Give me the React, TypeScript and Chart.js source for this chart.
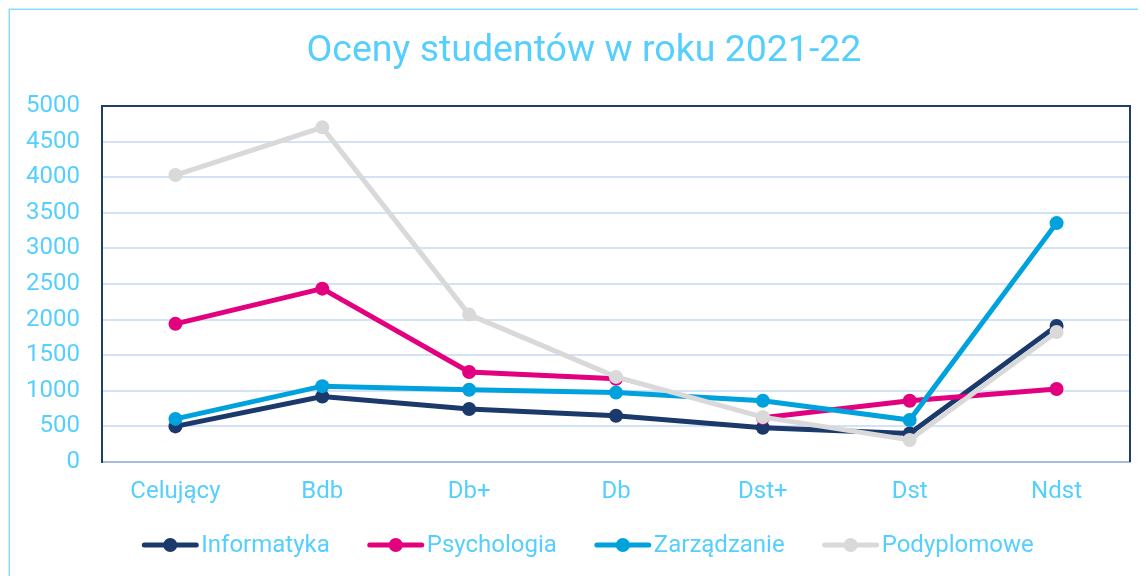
import React, { useEffect, useRef } from "react";
import { Chart, registerables } from "chart.js";

Chart.register(...registerables);

const TITLE = "Oceny studentów w roku 2021-22";
const categories = ["Celujący", "Bdb", "Db+", "Db", "Dst+", "Dst", "Ndst"];
const informatyka = [500, 920, 745, 650, 480, 400, 1910];
const psychologia = [1940, 2435, 1265, 1170, 620, 860, 1025];
const zarzadzanie = [605, 1065, 1015, 975, 860, 590, 3355];
const podyplomowe = [4030, 4700, 2070, 1195, 630, 310, 1825];
const seriesNames = ["Informatyka", "Psychologia", "Zarządzanie", "Podyplomowe"];
const seriesColors = ["#1B3A6B", "#E3007E", "#00A2DD", "#D9D9D9"];
const yTicks = [0, 500, 1000, 1500, 2000, 2500, 3000, 3500, 4000, 4500, 5000];

const TEXT = "#55CFFD";
const FONT = "Roboto";

export default function App() {
  const ref = useRef<HTMLCanvasElement | null>(null);
  useEffect(() => {
    if (!ref.current) return;
    const values = [informatyka, psychologia, zarzadzanie, podyplomowe];
    const decor = {
      id: "decor",
      beforeDraw(chart: any) {
        const c = chart.ctx;
        c.save();
        c.fillStyle = "#ffffff";
        c.fillRect(0, 0, chart.width, chart.height);
        c.strokeStyle = "#86DEFB";
        c.lineWidth = 1.5;
        c.strokeRect(1.25, 1.25, chart.width + 20, chart.height + 20);
        c.restore();
      },
      afterDatasetsDraw(chart: any) {
        const c = chart.ctx;
        const a = chart.chartArea;
        c.save();
        c.strokeStyle = "#1F3E6E";
        c.lineWidth = 2;
        c.beginPath();
        c.moveTo(a.left, a.top);
        c.lineTo(a.right, a.top);
        c.lineTo(a.right, a.bottom);
        c.stroke();
        c.restore();
      },
      afterDraw(chart: any) {
        const c = chart.ctx;
        c.save();
        // title
        c.fillStyle = TEXT;
        c.font = `37.5px ${FONT}`;
        c.textAlign = "center";
        c.textBaseline = "middle";
        c.fillText(TITLE, 576, 44);
        // legend
        c.font = `24px ${FONT}`;
        c.textAlign = "left";
        const lineLen = 56;
        const gapText = 3;
        const gapItem = 38;
        const widths = seriesNames.map((n) => c.measureText(n).width);
        const total =
          widths.reduce((s, w) => s + lineLen + gapText + w, 0) + gapItem * (seriesNames.length - 1);
        let x = 580 - total / 2;
        const y = 537;
        seriesNames.forEach((n, i) => {
          c.strokeStyle = seriesColors[i];
          c.fillStyle = seriesColors[i];
          c.lineWidth = 5;
          c.lineCap = "round";
          c.beginPath();
          c.moveTo(x + 2, y);
          c.lineTo(x + lineLen - 2, y);
          c.stroke();
          c.beginPath();
          c.arc(x + lineLen / 2, y, 7, 0, Math.PI * 2);
          c.fill();
          c.fillStyle = TEXT;
          c.fillText(n, x + lineLen + gapText, y + 1);
          x += lineLen + gapText + widths[i] + gapItem;
        });
        c.restore();
      },
    };

    const chart = new Chart(ref.current, {
      type: "line",
      data: {
        labels: categories,
        datasets: seriesNames.map((name, i) => ({
          label: name,
          data: values[i],
          borderColor: seriesColors[i],
          backgroundColor: seriesColors[i],
          pointBackgroundColor: seriesColors[i],
          borderWidth: 5,
          pointRadius: 7,
          pointBorderWidth: 0,
          pointHoverRadius: 7,
          tension: 0,
          order: 4 - i,
          segment:
            i === 1
              ? { borderWidth: (ctx: any) => (ctx.p0DataIndex === 3 ? 1 : 5) }
              : undefined,
        })),
      },
      options: {
        animation: false,
        responsive: false,
        maintainAspectRatio: false,
        layout: { padding: { left: 0, right: 16, top: 98, bottom: 54 } },
        plugins: {
          legend: { display: false },
          title: { display: false },
          tooltip: { enabled: false },
        },
        scales: {
          x: {
            offset: true,
            grid: { display: false, drawTicks: false },
            border: { display: true, color: "#A9BCDB", width: 2 },
            ticks: { color: TEXT, font: { family: FONT, size: 24 }, padding: 16, maxRotation: 0 },
            afterFit(scale: any) {
              scale.height = 60;
            },
          },
          y: {
            min: 0,
            max: 5000,
            afterBuildTicks(scale: any) {
              scale.ticks = yTicks.map((v) => ({ value: v }));
            },
            grid: {
              color: (ctx: any) => (ctx.tick && ctx.tick.value === 0 ? "rgba(0,0,0,0)" : "#D3E2F4"),
              lineWidth: 2,
              drawTicks: false,
            },
            border: { display: true, color: "#1F3E6E", width: 2 },
            ticks: {
              color: TEXT,
              font: { family: FONT, size: 24 },
              padding: 22,
              callback: (v: any) => String(v),
            },
            afterFit(scale: any) {
              scale.width = 94;
            },
          },
        },
      },
      plugins: [decor],
    });
    return () => chart.destroy();
  }, []);
  return <canvas ref={ref} width={1138} height={568} style={{ display: "block" }} />;
}
